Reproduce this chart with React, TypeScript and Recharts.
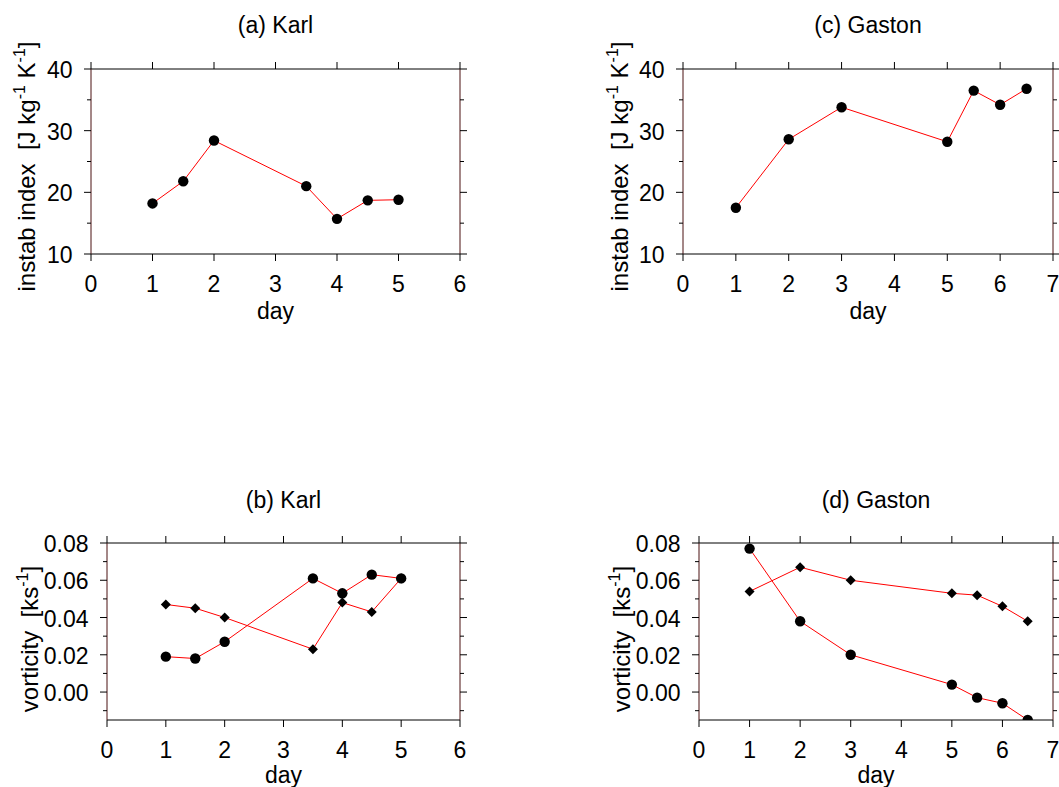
import React from 'react';
import { LineChart, Line, XAxis, YAxis } from 'recharts';

const FONT = '"Liberation Sans", Arial, Helvetica, sans-serif';

// (a) Karl - instability index
const karlInstabDays = [1, 1.5, 2, 3.5, 4, 4.5, 5];
const karlInstab = [18.2, 21.8, 28.4, 21.0, 15.7, 18.7, 18.8];
// (c) Gaston - instability index
const gastonInstabDays = [1, 2, 3, 5, 5.5, 6, 6.5];
const gastonInstab = [17.5, 28.6, 33.8, 28.2, 36.5, 34.2, 36.8];
// (b) Karl - vorticity
const karlVortDays = [1, 1.5, 2, 3.5, 4, 4.5, 5];
const karlVortCircle = [0.019, 0.018, 0.027, 0.061, 0.053, 0.063, 0.061];
const karlVortDiamond = [0.047, 0.045, 0.040, 0.023, 0.048, 0.043, 0.061];
// (d) Gaston - vorticity
const gastonVortDays = [1, 2, 3, 5, 5.5, 6, 6.5];
const gastonVortCircle = [0.077, 0.038, 0.020, 0.004, -0.003, -0.006, -0.015];
const gastonVortDiamond = [0.054, 0.067, 0.060, 0.053, 0.052, 0.046, 0.038];

// ticks
const instabTicks = [10, 15, 20, 25, 30, 35, 40];
const instabLabels = [10, 20, 30, 40];
const vortTicks = [-0.01, 0, 0.01, 0.02, 0.03, 0.04, 0.05, 0.06, 0.07, 0.08];
const vortLabels = [0, 0.02, 0.04, 0.06, 0.08];
const karlDayTicks = [0, 1, 2, 3, 4, 5, 6];
const gastonDayTicks = [0, 1, 2, 3, 4, 5, 6, 7];

const zip = (days: number[], vals: number[]) => days.map((d, i) => ({ day: d, v: vals[i] }));

const FS = 23;
const YFS = 24;
const SUPFS = 16;
const MAJOR = 7;
const MINOR = 4;
const SIDE_COLOR = '#4a1010';

const isIn = (v: number, arr: number[]) => arr.some((a) => Math.abs(a - v) < 1e-9);

const CircleDot = (p: any) => {
  if (p.cx == null || p.cy == null) return <g key={p.key} />;
  return <circle key={p.key} cx={p.cx} cy={p.cy} r={5.2} fill="#000" />;
};
const DiamondDot = (p: any) => {
  if (p.cx == null || p.cy == null) return <g key={p.key} />;
  const s = 5;
  const { cx, cy } = p;
  return (
    <polygon
      key={p.key}
      points={`${cx},${cy - s} ${cx + s},${cy} ${cx},${cy + s} ${cx - s},${cy}`}
      fill="#000"
    />
  );
};

type Series = { data: { day: number; v: number }[]; marker: 'circle' | 'diamond'; line: boolean; dots: boolean };

type PanelProps = {
  left: number;
  top: number;
  width: number;
  height: number;
  plot: { x: number; y: number; w: number; h: number };
  xDomain: [number, number];
  xTicks: number[];
  yDomain: [number, number];
  yTicks: number[];
  yLabels: number[];
  yFmt: (v: number) => string;
  series: Series[];
  title: string;
  titleY: number;
  dayY: number;
  yLabelX: number;
  yLabelY: number;
  yLabel: React.ReactNode;
};

function Panel(props: PanelProps) {
  const { left, top, width, height, plot, xDomain, xTicks, yDomain, yTicks, yLabels, yFmt, series } = props;
  const yAxisW = 60;
  const rightSpace = width - plot.x - plot.w;
  const rAxisW = Math.min(10, rightSpace);
  const margin = {
    left: plot.x - yAxisW,
    right: rightSpace - rAxisW,
    top: plot.y - 10,
    bottom: height - plot.y - plot.h - 30,
  };

  const BottomTick = (p: any) => (
    <g>
      <line x1={p.x} x2={p.x} y1={p.y} y2={p.y + MAJOR} stroke="#000" strokeWidth={1} />
      <text x={p.x} y={p.y + 37.5} textAnchor="middle" fontSize={FS} fontFamily={FONT} fill="#000">
        {String(p.payload.value)}
      </text>
    </g>
  );
  const TopTick = (p: any) => (
    <line x1={p.x} x2={p.x} y1={p.y} y2={p.y - MAJOR} stroke="#000" strokeWidth={1} />
  );
  const LeftTick = (p: any) => {
    const major = isIn(p.payload.value, yLabels);
    return (
      <g>
        <line x1={p.x} x2={p.x - (major ? MAJOR : MINOR)} y1={p.y} y2={p.y} stroke="#000" strokeWidth={1} />
        {major ? (
          <text x={p.x - 18.5} y={p.y + 9} textAnchor="end" fontSize={FS} fontFamily={FONT} fill="#000">
            {yFmt(p.payload.value)}
          </text>
        ) : null}
      </g>
    );
  };
  const RightTick = (p: any) => {
    const major = isIn(p.payload.value, yLabels);
    return <line x1={p.x} x2={p.x + (major ? MAJOR : MINOR)} y1={p.y} y2={p.y} stroke="#000" strokeWidth={1} />;
  };

  const cx = plot.x + plot.w / 2;

  return (
    <div style={{ position: 'absolute', left, top, width, height }}>
      <LineChart width={width} height={height} margin={margin}>
        <XAxis
          xAxisId="b"
          dataKey="day"
          type="number"
          orientation="bottom"
          domain={xDomain}
          allowDataOverflow
          ticks={xTicks}
          interval={0}
          tickSize={0}
          tickMargin={0}
          tickLine={false}
          tick={BottomTick}
          axisLine={{ stroke: '#000', strokeWidth: 1 }}
          height={30}
        />
        <XAxis
          xAxisId="t"
          dataKey="day"
          type="number"
          orientation="top"
          domain={xDomain}
          allowDataOverflow
          ticks={xTicks}
          interval={0}
          tickSize={0}
          tickMargin={0}
          tickLine={false}
          tick={TopTick}
          axisLine={{ stroke: '#000', strokeWidth: 1 }}
          height={10}
        />
        <YAxis
          yAxisId="l"
          type="number"
          orientation="left"
          domain={yDomain}
          allowDataOverflow
          ticks={yTicks}
          interval={0}
          tickSize={0}
          tickMargin={0}
          tickLine={false}
          tick={LeftTick}
          axisLine={{ stroke: SIDE_COLOR, strokeWidth: 1 }}
          width={yAxisW}
        />
        <YAxis
          yAxisId="r"
          type="number"
          orientation="right"
          domain={yDomain}
          allowDataOverflow
          ticks={yTicks}
          interval={0}
          tickSize={0}
          tickMargin={0}
          tickLine={false}
          tick={RightTick}
          axisLine={{ stroke: SIDE_COLOR, strokeWidth: 1 }}
          width={rAxisW}
        />
        {series.map((s, i) => (
          <Line
            key={i}
            data={s.data}
            dataKey="v"
            xAxisId="b"
            yAxisId="l"
            type="linear"
            stroke={s.line ? '#ff0000' : 'none'}
            strokeWidth={1}
            dot={s.dots ? (s.marker === 'circle' ? CircleDot : DiamondDot) : false}
            activeDot={false}
            isAnimationActive={false}
          />
        ))}
      </LineChart>
      <svg
        width={width}
        height={height}
        style={{ position: 'absolute', left: 0, top: 0, pointerEvents: 'none' }}
      >
        <text x={cx} y={props.titleY} textAnchor="middle" fontSize={FS} fontFamily={FONT} fill="#000">
          {props.title}
        </text>
        <text x={cx} y={props.dayY} textAnchor="middle" fontSize={FS} fontFamily={FONT} fill="#000">
          day
        </text>
        <text
          x={props.yLabelX}
          y={props.yLabelY}
          transform={`rotate(-90 ${props.yLabelX} ${props.yLabelY})`}
          textAnchor="middle"
          fontSize={YFS}
          fontFamily={FONT}
          fill="#000"
          style={{ whiteSpace: 'pre' }}
        >
          {props.yLabel}
        </text>
      </svg>
    </div>
  );
}

const instabLabel = (
  <>
    <tspan>{'instab index  [J kg'}</tspan>
    <tspan dy={-10} fontSize={SUPFS}>-1</tspan>
    <tspan dy={10}>{' K'}</tspan>
    <tspan dy={-10} fontSize={SUPFS}>-1</tspan>
    <tspan dy={10}>]</tspan>
  </>
);
const vortLabel = (
  <>
    <tspan>{'vorticity  [ks'}</tspan>
    <tspan dy={-10} fontSize={SUPFS}>-1</tspan>
    <tspan dy={10}>]</tspan>
  </>
);

const fmtInt = (v: number) => String(v);
const fmt2 = (v: number) => v.toFixed(2);

export default function App() {
  return (
    <div
      style={{
        position: 'absolute',
        left: 0,
        top: 0,
        width: 1059,
        height: 787,
        background: '#fff',
        overflow: 'hidden',
        fontFamily: FONT,
      }}
    >
      <Panel
        left={0}
        top={0}
        width={480}
        height={340}
        plot={{ x: 91, y: 69, w: 369, h: 185 }}
        xDomain={[0, 6]}
        xTicks={karlDayTicks}
        yDomain={[10, 40]}
        yTicks={instabTicks}
        yLabels={instabLabels}
        yFmt={fmtInt}
        series={[{ data: zip(karlInstabDays, karlInstab), marker: 'circle', line: true, dots: true }]}
        title="(a) Karl"
        titleY={33}
        dayY={319}
        yLabelX={35}
        yLabelY={166.5}
        yLabel={instabLabel}
      />
      <Panel
        left={580}
        top={0}
        width={479}
        height={340}
        plot={{ x: 103, y: 69, w: 370, h: 185 }}
        xDomain={[0, 7]}
        xTicks={gastonDayTicks}
        yDomain={[10, 40]}
        yTicks={instabTicks}
        yLabels={instabLabels}
        yFmt={fmtInt}
        series={[{ data: zip(gastonInstabDays, gastonInstab), marker: 'circle', line: true, dots: true }]}
        title="(c) Gaston"
        titleY={33}
        dayY={319}
        yLabelX={48}
        yLabelY={166.5}
        yLabel={instabLabel}
      />
      <Panel
        left={0}
        top={480}
        width={480}
        height={307}
        plot={{ x: 107, y: 63, w: 353, h: 177 }}
        xDomain={[0, 6]}
        xTicks={karlDayTicks}
        yDomain={[-0.015, 0.08]}
        yTicks={vortTicks}
        yLabels={vortLabels}
        yFmt={fmt2}
        series={[
          { data: zip(karlVortDays, karlVortDiamond), marker: 'diamond', line: true, dots: false },
          { data: zip(karlVortDays, karlVortCircle), marker: 'circle', line: true, dots: true },
          { data: zip(karlVortDays, karlVortDiamond), marker: 'diamond', line: false, dots: true },
        ]}
        title="(b) Karl"
        titleY={28}
        dayY={303}
        yLabelX={38}
        yLabelY={159}
        yLabel={vortLabel}
      />
      <Panel
        left={580}
        top={480}
        width={479}
        height={307}
        plot={{ x: 119, y: 63, w: 354, h: 177 }}
        xDomain={[0, 7]}
        xTicks={gastonDayTicks}
        yDomain={[-0.015, 0.08]}
        yTicks={vortTicks}
        yLabels={vortLabels}
        yFmt={fmt2}
        series={[
          { data: zip(gastonVortDays, gastonVortDiamond), marker: 'diamond', line: true, dots: false },
          { data: zip(gastonVortDays, gastonVortCircle), marker: 'circle', line: true, dots: true },
          { data: zip(gastonVortDays, gastonVortDiamond), marker: 'diamond', line: false, dots: true },
        ]}
        title="(d) Gaston"
        titleY={28}
        dayY={303}
        yLabelX={50}
        yLabelY={159}
        yLabel={vortLabel}
      />
    </div>
  );
}
